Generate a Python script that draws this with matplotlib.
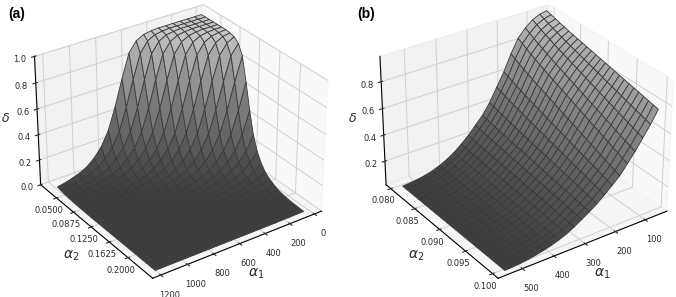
import numpy as np
import matplotlib
matplotlib.use('Agg')
import matplotlib.pyplot as plt
from matplotlib.colors import LinearSegmentedColormap, Normalize
# ------------------------------ #

# panel (a): delta read down the steep face, one value per diagonal of the grid
alpha1A = np.linspace(40, 1200, 21)
alpha2A = np.linspace(0.035, 0.2375, 26)
faceProfileA = [1.0, 1.0, 1.0, 1.0, 1.0, 1.0, 1.0, 0.995, 0.985, 0.955, 0.88, 0.70, 0.50,
	0.33, 0.22, 0.15, 0.10, 0.07, 0.05, 0.033, 0.022, 0.015, 0.01, 0.007, 0.005, 0.003,
	0.002, 0.001, 0.001, 0.0, 0.0, 0.0, 0.0, 0.0, 0.0, 0.0, 0.0, 0.0, 0.0, 0.0, 0.0, 0.0,
	0.0, 0.0, 0.0, 0.0]
alpha1TicksA = [0, 200, 400, 600, 800, 1000, 1200]
alpha2TicksA = [0.05, 0.0875, 0.125, 0.1625, 0.2]
alpha2LabelsA = ['0.0500', '0.0875', '0.1250', '0.1625', '0.2000']
deltaTicksA = [0.0, 0.2, 0.4, 0.6, 0.8, 1.0]

# panel (b): delta read along the back and front edges, with the share of each per row
alpha1B = np.linspace(50, 537, 21)
alpha2B = np.linspace(0.08, 0.1, 25)
backEdgeB = [0.98, 0.97, 0.945, 0.90, 0.84, 0.74, 0.62, 0.52, 0.42, 0.34, 0.28,
	0.22, 0.17, 0.125, 0.09, 0.062, 0.04, 0.025, 0.014, 0.007, 0.002]
frontEdgeB = [0.77, 0.68, 0.60, 0.52, 0.45, 0.38, 0.33, 0.28, 0.235, 0.195, 0.16,
	0.125, 0.095, 0.072, 0.053, 0.038, 0.026, 0.016, 0.009, 0.005, 0.002]
frontShareB = [0.0, 0.05, 0.10, 0.15, 0.19, 0.24, 0.28, 0.32, 0.36, 0.40, 0.44, 0.48, 0.52,
	0.56, 0.60, 0.64, 0.68, 0.72, 0.76, 0.80, 0.84, 0.88, 0.92, 0.96, 1.0]
alpha1TicksB = [100, 200, 300, 400, 500]
alpha2TicksB = [0.08, 0.085, 0.09, 0.095, 0.1]
alpha2LabelsB = ['0.080', '0.085', '0.090', '0.095', '0.100']
deltaTicksB = [0.2, 0.4, 0.6, 0.8]
# ------------------------------ #

greyMap = LinearSegmentedColormap.from_list('surfaceGrey', [
	(0.0, '#3e3e3e'),
	(0.3, '#606060'),
	(0.6, '#858585'),
	(0.85, '#a8a8a8'),
	(1.0, '#c8c8c8'),
])
textColor = '#2a2a2a'
# ------------------------------ #

def plotPanel(fig, rect, alpha1, alpha2, z, limits, ticks, alpha2Labels, letter, letterPos, deltaPos):
	ax = fig.add_axes(rect, projection = '3d')
	ax.view_init(elev = 30, azim = 55)
	ax.set_box_aspect((4, 4, 2.9), zoom = 1.01)

	x, y = np.meshgrid(alpha1, alpha2)

	ax.plot_surface(
		x, y, z,
		rstride = 1,
		cstride = 1,
		cmap = greyMap,
		norm = Normalize(0, 1),
		edgecolor = '#3a3a3a',
		linewidth = 0.6,
		antialiased = True
	)

	ax.set_xlim(*limits[0])
	ax.set_ylim(*limits[1])
	ax.set_zlim(*limits[2])

	ax.set_xticks(ticks[0])
	ax.set_yticks(ticks[1])
	ax.set_yticklabels(alpha2Labels, va = 'top')
	ax.set_zticks(ticks[2])

	ax.tick_params(labelsize = 6, colors = textColor)
	ax.tick_params(axis = 'x', pad = 0)
	ax.tick_params(axis = 'y', pad = -3)
	ax.tick_params(axis = 'z', pad = -2)

	for axis in (ax.xaxis, ax.yaxis, ax.zaxis):
		axis.set_rotate_label(False)
		axis._axinfo['grid']['linewidth'] = 0.7
		axis._axinfo['grid']['color'] = '#d0d0d0'

	ax.set_xlabel(r'$\alpha_1$', fontsize = 10, labelpad = -5, color = textColor)
	ax.set_ylabel(r'$\alpha_2$', fontsize = 10, labelpad = -5, color = textColor)

	# zlabel jumps to the far side at this view, so place it on the figure
	fig.text(deltaPos[0], deltaPos[1], r'$\delta$', fontsize = 9, color = textColor, ha = 'center', va = 'center')

	fig.text(letterPos[0], letterPos[1], letter, fontsize = 10, fontweight = 'bold',
		family = 'Liberation Sans', ha = 'left', va = 'center')
# ------------------------------ #

if __name__ == '__main__':
	fig = plt.figure(figsize = (6.76, 2.97), dpi = 100)

	# rows run over alpha2, columns over alpha1
	zA = np.array([[faceProfileA[i + j] for i in range(len(alpha1A))] for j in range(len(alpha2A))])
	zB = np.outer(1 - np.array(frontShareB), backEdgeB) + np.outer(frontShareB, frontEdgeB)

	plotPanel(fig, [-0.001, 0.003, 0.52, 1.06], alpha1A, alpha2A, zA,
		[(-60, 1260), (0.0144, 0.2481), (0.0, 1.0)],
		[alpha1TicksA, alpha2TicksA, deltaTicksA], alpha2LabelsA, '(a)', (0.012, 0.953), (0.008, 0.60))

	plotPanel(fig, [0.510, 0.003, 0.52, 1.06], alpha1B, alpha2B, zB,
		[(25, 575), (0.079, 0.101), (0.015, 0.985)],
		[alpha1TicksB, alpha2TicksB, deltaTicksB], alpha2LabelsB, '(b)', (0.528, 0.953), (0.521, 0.60))

	fig.savefig('out.png', dpi = 100)
# ------------------------------ #
